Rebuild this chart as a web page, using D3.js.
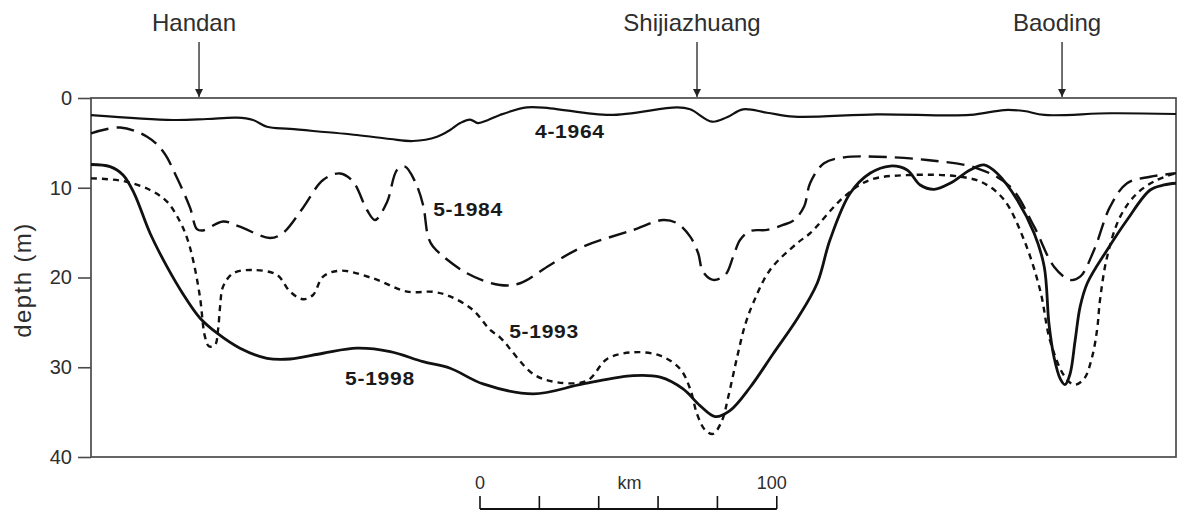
<!DOCTYPE html>
<html>
<head>
<meta charset="utf-8">
<script src="https://cdn.jsdelivr.net/npm/d3@7"></script>
<style>
  html, body { margin: 0; padding: 0; background: #fff; }
  svg { display: block; }
</style>
</head>
<body>
<svg id="chart" width="1177" height="514"></svg>
<script>
// Groundwater depth profiles along the Handan – Shijiazhuang – Baoding section.
// Each point: [distance along section (km), depth to water table (m)].

const depthTicks = [0, 10, 20, 30, 40];
const scaleBarTicks = [0, 20, 40, 60, 80, 100];

const towns = ["Handan", "Shijiazhuang", "Baoding"];
const townKm = [36.4, 204.2, 327.2];

const seriesNames = ["4-1964", "5-1984", "5-1993", "5-1998"];

const profile1964 = [
  [0, 1.9], [27.6, 2.45], [39.1, 2.34], [49.2, 2.19], [54.6, 2.45], [59.3, 3.2],
  [67.1, 3.45], [89.6, 4.12], [100.8, 4.57], [108.5, 4.79], [116.6, 4.31],
  [121.0, 3.56], [124.4, 2.79], [127.7, 2.4], [130.4, 2.79], [133.8, 2.45],
  [137.8, 1.89], [146.9, 1.04], [154.7, 1.15], [174.9, 1.89], [197.5, 1.04],
  [201.9, 1.26], [209.3, 2.64], [214.3, 2.15], [219.7, 1.26], [227.8, 1.64],
  [236.9, 2.08], [264.9, 1.82], [296.2, 1.89], [307.7, 1.34], [314.4, 1.45],
  [321.2, 1.89], [343.4, 1.70], [365.6, 1.78]
];

const profile1984 = [
  [0, 3.93], [9.8, 3.29], [18.9, 4.31], [24.3, 5.96], [29.0, 8.91], [33.4, 12.25],
  [35.7, 14.6], [37.7, 14.76], [44.5, 13.76], [50.2, 14.34], [60.3, 15.6],
  [64.7, 15.04], [71.4, 12.25], [78.2, 9.13], [83.9, 8.41], [88.3, 9.32],
  [93.0, 12.48], [95.7, 13.59], [99.8, 11.55], [103.1, 8.02], [105.8, 7.65],
  [109.2, 9.32], [111.9, 11.92], [113.6, 15.45], [115.3, 16.57], [126.7, 19.53],
  [137.8, 20.83], [144.6, 20.64], [154.7, 18.6], [165.8, 16.57], [182.7, 14.7],
  [192.8, 13.59], [197.5, 13.96], [201.9, 15.45], [204.6, 17.3], [206.2, 19.35],
  [209.6, 20.27], [213.7, 19.72], [216.4, 17.68], [218.7, 15.82], [222.1, 14.82],
  [227.8, 14.7], [233.2, 14.15], [236.9, 13.6], [240.3, 12.1], [242.3, 9.5],
  [247.0, 7.27], [253.8, 6.61], [264.9, 6.54], [281.7, 6.91], [298.6, 7.83],
  [309.7, 9.88], [317.8, 14.34], [324.5, 18.79], [329.9, 20.27], [333.3, 19.91],
  [338.0, 16.93], [343.4, 12.11], [349.1, 9.5], [356.9, 8.77], [365.6, 8.39]
];

const profile1993 = [
  [0, 8.95], [10.8, 9.25], [19.9, 10.25], [25.6, 11.55], [30.0, 13.78],
  [32.4, 15.63], [34.4, 18.05], [36.7, 22.13], [38.4, 26.59], [39.8, 27.68],
  [41.8, 27.52], [42.8, 25.84], [43.5, 23.25], [44.5, 21.02], [47.9, 19.53],
  [54.6, 19.16], [62.7, 19.72], [67.1, 21.58], [71.4, 22.42], [74.8, 21.95],
  [78.2, 19.91], [83.9, 19.24], [95.0, 20.09], [106.5, 21.58], [115.3, 21.6],
  [121.0, 22.1], [128.7, 23.62], [134.5, 25.84], [137.8, 26.66], [149.0, 30.75],
  [157.0, 31.67], [167.2, 31.49], [173.9, 29.08], [182.7, 28.33], [191.8, 28.71],
  [198.5, 30.19], [201.9, 32.42], [204.2, 35.2], [206.9, 36.98], [209.6, 37.43],
  [212.6, 35.95], [214.7, 33.34], [217.7, 28.89], [220.4, 25.29], [223.1, 22.87],
  [228.8, 19.16], [237.9, 16.19], [242.3, 15.07], [253.8, 10.99], [262.5, 9.13],
  [276.0, 8.58], [292.9, 8.77], [300.9, 9.5], [307.7, 11.36], [314.4, 15.82],
  [319.8, 21.39], [323.2, 27.07], [327.9, 30.94], [331.3, 31.94], [334.6, 31.3],
  [337.3, 28.89], [339.0, 25.84], [340.0, 22.5], [342.4, 17.68], [346.8, 13.22],
  [352.5, 10.62], [359.2, 9.13], [365.6, 8.39]
];

const profile1998 = [
  [0, 7.41], [6.4, 7.65], [10.8, 8.58], [14.5, 10.6], [19.9, 15.07], [25.6, 18.79],
  [31.0, 21.83], [36.7, 24.51], [42.5, 26.21], [50.2, 27.88], [59.3, 29.0],
  [67.1, 29.08], [78.2, 28.44], [89.6, 27.88], [100.8, 28.26], [111.9, 29.38],
  [121.0, 30.11], [132.1, 31.86], [149.0, 32.97], [165.8, 31.86], [182.7, 30.94],
  [191.8, 31.11], [199.5, 32.42], [205.2, 34.28], [210.3, 35.5], [215.3, 34.83],
  [222.1, 32.23], [229.8, 28.52], [238.3, 24.43], [244.7, 20.64], [249.0, 15.82],
  [255.8, 10.62], [262.5, 8.39], [269.3, 7.58], [275.0, 8.02], [279.4, 9.69],
  [284.1, 10.17], [289.5, 9.5], [296.2, 8.02], [300.9, 7.46], [305.3, 8.39],
  [312.1, 11.36], [317.8, 15.07], [321.2, 18.79], [322.8, 25.18], [324.5, 28.89],
  [326.6, 31.3], [328.2, 31.94], [329.9, 30.75], [331.6, 27.04], [333.3, 23.25],
  [335.7, 20.64], [342.4, 16.93], [349.1, 13.59], [356.9, 10.25], [361.6, 9.69],
  [365.6, 9.5]
];

const profiles = [profile1964, profile1984, profile1993, profile1998];

// Label anchors, [km, m], in data units
const labelAnchors = [[149.6, 4.46], [115.3, 13.15], [140.9, 26.74], [85.6, 31.97]];

// ---- layout ----
const frame = { left: 91, right: 1176, top: 98, bottom: 457 };
const svg = d3.select("#chart");

const x = d3.scaleLinear().domain([0, 365.6]).range([frame.left, frame.right]);
const y = d3.scaleLinear().domain([0, 40]).range([frame.top, frame.bottom]);

const axisColor = "#4a4a4a";
const textColor = "#2e2e2e";
const lineColor = "#111";
const sans = "'Liberation Sans', Arial, Helvetica, sans-serif";

// y axis
const yAxis = svg.append("g")
  .attr("transform", `translate(${frame.left},0)`)
  .call(d3.axisLeft(y).tickValues(depthTicks).tickSize(13).tickPadding(6));
yAxis.select(".domain").remove();
yAxis.selectAll(".tick line").attr("stroke", axisColor).attr("stroke-width", 1.6);
yAxis.selectAll(".tick text")
  .attr("fill", textColor)
  .style("font-family", sans)
  .style("font-size", "20px");

svg.append("text")
  .attr("transform", `translate(31,${(222 + 338) / 2}) rotate(-90)`)
  .attr("text-anchor", "middle")
  .attr("fill", textColor)
  .style("font-family", sans)
  .style("font-size", "24px")
  .style("letter-spacing", "1.4px")
  .text("depth (m)");

// frame
svg.append("rect")
  .attr("x", frame.left).attr("y", frame.top)
  .attr("width", frame.right - frame.left)
  .attr("height", frame.bottom - frame.top)
  .attr("fill", "none")
  .attr("stroke", axisColor)
  .attr("stroke-width", 1.7);

// profile lines
const line = d3.line()
  .x(d => x(d[0]))
  .y(d => y(d[1]))
  .curve(d3.curveCatmullRom.alpha(0.5));

const styles = [
  { width: 2.2, dash: null },
  { width: 2.4, dash: "18,8" },
  { width: 2.4, dash: "6,5" },
  { width: 2.8, dash: null }
];

svg.append("g").selectAll("path")
  .data(profiles)
  .join("path")
  .attr("d", line)
  .attr("fill", "none")
  .attr("stroke", lineColor)
  .attr("stroke-width", (d, i) => styles[i].width)
  .attr("stroke-dasharray", (d, i) => styles[i].dash)
  .attr("stroke-linejoin", "round");

// series labels (bold, slightly widened lettering)
svg.append("g").selectAll("text")
  .data(seriesNames)
  .join("text")
  .attr("transform", (d, i) =>
    `translate(${x(labelAnchors[i][0])},${y(labelAnchors[i][1])}) scale(1.17,1)`)
  .attr("fill", "#1a1a1a")
  .style("font-family", sans)
  .style("font-weight", "bold")
  .style("font-size", "18px")
  .style("letter-spacing", "0.6px")
  .text(d => d);

// town markers
svg.append("defs").append("marker")
  .attr("id", "arrowhead")
  .attr("viewBox", "0 0 10 10")
  .attr("refX", 10).attr("refY", 5)
  .attr("markerWidth", 10).attr("markerHeight", 8)
  .attr("markerUnits", "userSpaceOnUse")
  .attr("orient", "auto")
  .append("path")
  .attr("d", "M0,0 L10,5 L0,10 Z")
  .attr("fill", "#222");

const townG = svg.append("g").selectAll("g")
  .data(towns)
  .join("g");

townG.append("line")
  .attr("x1", (d, i) => x(townKm[i]))
  .attr("x2", (d, i) => x(townKm[i]))
  .attr("y1", 42)
  .attr("y2", frame.top - 1)
  .attr("stroke", "#222")
  .attr("stroke-width", 1.3)
  .attr("marker-end", "url(#arrowhead)");

townG.append("text")
  .attr("x", (d, i) => x(townKm[i]) - 5)
  .attr("y", 31)
  .attr("text-anchor", "middle")
  .attr("fill", textColor)
  .style("font-family", sans)
  .style("font-size", "24px")
  .text(d => d);

// scale bar
const barScale = d3.scaleLinear()
  .domain([0, 100])
  .range([480, 480 + (x(100) - x(0))]);
const barY = 509;
const bar = svg.append("g");
bar.append("line")
  .attr("x1", barScale(0)).attr("x2", barScale(100))
  .attr("y1", barY).attr("y2", barY)
  .attr("stroke", "#111").attr("stroke-width", 2.2);
bar.selectAll("line.tick")
  .data(scaleBarTicks)
  .join("line")
  .attr("class", "tick")
  .attr("x1", d => barScale(d)).attr("x2", d => barScale(d))
  .attr("y1", barY).attr("y2", barY - 13)
  .attr("stroke", "#111").attr("stroke-width", 1.6);
bar.selectAll("text")
  .data([0, 100])
  .join("text")
  .attr("x", d => barScale(d) - (d === 100 ? 5 : 0))
  .attr("y", 489)
  .attr("text-anchor", "middle")
  .attr("fill", textColor)
  .style("font-family", sans)
  .style("font-size", "18px")
  .text(d => d);
bar.append("text")
  .attr("x", barScale(50) + 1)
  .attr("y", 489)
  .attr("text-anchor", "middle")
  .attr("fill", textColor)
  .style("font-family", sans)
  .style("font-size", "18px")
  .text("km");
</script>
</body>
</html>
